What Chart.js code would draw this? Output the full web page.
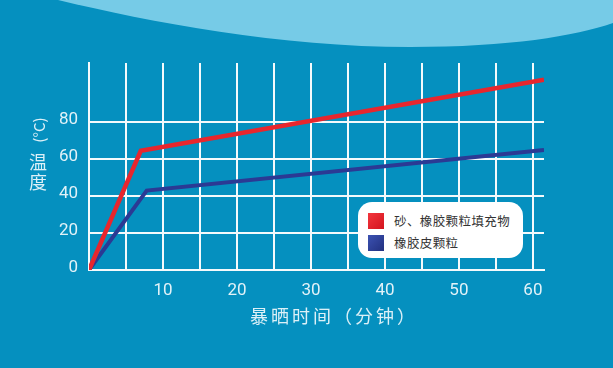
<!DOCTYPE html>
<html lang="zh-CN">
<head>
<meta charset="UTF-8">
<title>暴晒时间与温度</title>
<script src="https://cdn.jsdelivr.net/npm/chart.js"></script>
<style>
    html, body { margin: 0; padding: 0; }
    body {
        width: 613px;
        height: 368px;
        overflow: hidden;
        background: #0590bf;
        font-family: 'Noto Sans CJK SC', 'Noto Sans', sans-serif;
    }
    .wrap { position: relative; width: 613px; height: 368px; }
    #chart { position: absolute; left: 0; top: 0; }

    .y-unit {
        position: absolute;
        left: 38px;
        top: 130px;
        transform: translate(-50%, -50%) rotate(-90deg);
        font-size: 15px;
        color: #dcf0f7;
        white-space: nowrap;
        line-height: 1;
    }
    .y-title {
        position: absolute;
        left: 29px;
        top: 151px;
        width: 18px;
        font-size: 18px;
        line-height: 20px;
        color: #dcf0f7;
        text-align: center;
    }
    .x-title {
        position: absolute;
        left: 250px;
        top: 302px;
        font-size: 18px;
        line-height: 26px;
        letter-spacing: 3px;
        color: #dcf0f7;
        white-space: nowrap;
    }

    .legend {
        position: absolute;
        left: 358px;
        top: 202px;
        width: 165px;
        height: 56px;
        background: #fff;
        border-radius: 14px;
    }
    .legend .item {
        position: absolute;
        left: 10px;
        height: 17px;
        display: flex;
        align-items: center;
        font-size: 12.5px;
        letter-spacing: 0.4px;
        color: #333;
        white-space: nowrap;
    }
    .legend .swatch {
        width: 16px;
        height: 16px;
        margin-right: 10px;
    }
</style>
</head>
<body>
<div class="wrap">
    <canvas id="chart" width="613" height="368"></canvas>
    <div class="y-unit">(°C)</div>
    <div class="y-title">温<br>度</div>
    <div class="x-title">暴晒时间（分钟）</div>
    <div class="legend" id="legend"></div>
</div>

<script>
// data
const seriesNames = ['砂、橡胶颗粒填充物', '橡胶皮颗粒'];
const sandTime = [0, 7, 61.5];
const sandTemp = [0, 64.5, 103];
const rubberTime = [0, 7.8, 61.5];
const rubberTemp = [0, 43, 65];
const xTickLabels = [10, 20, 30, 40, 50, 60];
const yTickLabels = [0, 20, 40, 60, 80];

const lineColors = ['#e8262d', '#2b3a94'];
const swatchFills = [
    'linear-gradient(135deg, #f3363d, #d3141f)',
    'linear-gradient(135deg, #3c52b2, #22307f)'
];
const labelColor = '#e2f2f8';
const gridColor = '#f4fafc';

function toPoints(xs, ys) {
    return xs.map((x, i) => ({ x: x, y: ys[i] }));
}

// background with the light wave at the top
const backdrop = {
    id: 'backdrop',
    beforeDraw(chart) {
        const c = chart.ctx;
        c.save();
        c.fillStyle = '#0590bf';
        c.fillRect(0, 0, chart.width, chart.height);
        c.beginPath();
        c.moveTo(58, 0);
        c.bezierCurveTo(150, 22, 280, 47, 410, 47);
        c.bezierCurveTo(510, 47, 575, 36, 613, 23);
        c.lineTo(613, 0);
        c.closePath();
        c.fillStyle = '#76cbe7';
        c.fill();
        c.restore();
    }
};

const chart = new Chart(document.getElementById('chart'), {
    type: 'line',
    data: {
        datasets: [
            {
                label: seriesNames[0],
                data: toPoints(sandTime, sandTemp),
                borderColor: lineColors[0],
                borderWidth: 4.5
            },
            {
                label: seriesNames[1],
                data: toPoints(rubberTime, rubberTemp),
                borderColor: lineColors[1],
                borderWidth: 4
            }
        ]
    },
    options: {
        responsive: false,
        animation: false,
        devicePixelRatio: 1,
        layout: { padding: { left: 0, top: 63, right: 69, bottom: 0 } },
        elements: {
            point: { radius: 0 },
            line: { tension: 0, borderJoinStyle: 'miter', fill: false }
        },
        plugins: {
            legend: { display: false },
            tooltip: { enabled: false }
        },
        scales: {
            x: {
                type: 'linear',
                min: 0,
                max: 61.5,
                afterFit: s => { s.height = 98; },
                ticks: {
                    stepSize: 5,
                    includeBounds: false,
                    autoSkip: false,
                    maxRotation: 0,
                    padding: 11,
                    color: labelColor,
                    font: { family: 'Roboto', size: 17 },
                    callback: v => xTickLabels.includes(v) ? v : ''
                },
                grid: { color: gridColor, lineWidth: 2, drawTicks: false },
                border: { color: gridColor, width: 2 }
            },
            y: {
                min: 0,
                max: 112,
                afterFit: s => { s.width = 89; },
                ticks: {
                    stepSize: 20,
                    includeBounds: false,
                    padding: 11,
                    labelOffset: -2,
                    color: labelColor,
                    font: { family: 'Roboto', size: 17 },
                    callback: v => yTickLabels.includes(v) ? v : ''
                },
                grid: {
                    drawTicks: false,
                    lineWidth: 2,
                    color: ctx => (ctx.tick && ctx.tick.value > 0 && yTickLabels.includes(ctx.tick.value)) ? gridColor : 'rgba(0,0,0,0)'
                },
                border: { color: gridColor, width: 2 }
            }
        }
    },
    plugins: [backdrop]
});

// legend box built from the datasets
const legendEl = document.getElementById('legend');
chart.data.datasets.forEach((ds, i) => {
    const item = document.createElement('div');
    item.className = 'item';
    item.style.top = (10 + i * 22) + 'px';
    const sw = document.createElement('span');
    sw.className = 'swatch';
    sw.style.background = swatchFills[i];
    const txt = document.createElement('span');
    txt.textContent = ds.label;
    item.appendChild(sw);
    item.appendChild(txt);
    legendEl.appendChild(item);
});
</script>
</body>
</html>
